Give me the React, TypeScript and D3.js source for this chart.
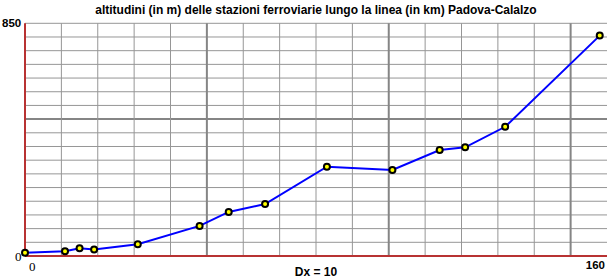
import React from "react";
import * as d3 from "d3";

const kmValues = [0, 11, 15, 19, 31, 48, 56, 66, 83, 101, 114, 121, 132, 158];
const altitudeValues = [12, 17, 28, 24, 43, 110, 161, 190, 326, 314, 387, 397, 472, 805];
const xDomain = [0, 160];
const yDomain = [0, 850];
const xStep = 10;
const yStep = 50;
const titleText = "altitudini (in m) delle stazioni ferroviarie lungo la linea (in km) Padova-Calalzo";
const dxLabel = "Dx = 10";
const xTickLabels = ["0", "160"];
const yTickLabels = ["0", "850"];

export default function App() {
  const W = 610, H = 279;
  const x = d3.scaleLinear().domain(xDomain).range([25, 607]);
  const y = d3.scaleLinear().domain(yDomain).range([256, 23.3]);
  const xGrid = d3.range(xDomain[0] + xStep, xDomain[1], xStep);
  const yGrid = d3.range(yDomain[0] + yStep, yDomain[1] + 1, yStep);
  const data = kmValues.map((k, i) => [k, altitudeValues[i]] as [number, number]);
  const line = d3.line<[number, number]>().x(d => x(d[0])).y(d => y(d[1]));
  const sans = "'Liberation Sans', Arial, sans-serif";
  const serif = "'Liberation Serif', 'Times New Roman', serif";
  return (
    <svg width={W} height={H} style={{ position: "absolute", left: 0, top: 0, background: "#fff" }}>
      <rect x={0} y={0} width={W} height={H} fill="#fff" />
      {yGrid.map(v => (
        <line key={"h" + v} x1={x(xDomain[0])} x2={x(xDomain[1])} y1={y(v)} y2={y(v)}
          stroke={v % 500 === 0 ? "#858585" : "#969696"} strokeWidth={v % 500 === 0 ? 2 : 1} />
      ))}
      {xGrid.map(v => (
        <line key={"v" + v} x1={x(v)} x2={x(v)} y1={y(yDomain[0])} y2={y(yDomain[1])}
          stroke={v % 50 === 0 ? "#858585" : "#969696"} strokeWidth={v % 50 === 0 ? 2 : 1} />
      ))}
      <line x1={x(0)} x2={x(0)} y1={y(yDomain[1])} y2={y(0)} stroke="#b83232" strokeWidth={2} />
      <line x1={x(0)} x2={x(xDomain[1])} y1={y(0)} y2={y(0)} stroke="#b83232" strokeWidth={2} />
      <path d={line(data) || ""} fill="none" stroke="#0000ff" strokeWidth={2} />
      {data.map((d, i) => (
        <circle key={i} cx={x(d[0])} cy={y(d[1])} r={3} fill="#ffff00" stroke="#000" strokeWidth={2} />
      ))}
      <text x={(x(0) + x(160)) / 2} y={14} textAnchor="middle" fontFamily={sans} fontWeight="bold" fontSize={12}>{titleText}</text>
      <text x={2} y={y(850) + 4} fontFamily={sans} fontWeight="bold" fontSize={11.5}>{yTickLabels[1]}</text>
      <text x={15} y={261} fontFamily={serif} fontSize={13}>{yTickLabels[0]}</text>
      <text x={29} y={271} fontFamily={serif} fontSize={13}>{xTickLabels[0]}</text>
      <text x={605} y={269} textAnchor="end" fontFamily={sans} fontWeight="bold" fontSize={11.5}>{xTickLabels[1]}</text>
      <text x={(x(0) + x(160)) / 2} y={276} textAnchor="middle" fontFamily={sans} fontWeight="bold" fontSize={12}>{dxLabel}</text>
    </svg>
  );
}
